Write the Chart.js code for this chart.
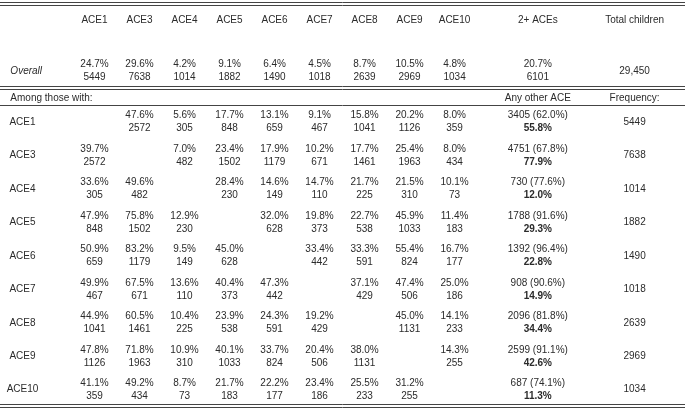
<!DOCTYPE html>
<html>
<head>
<meta charset="utf-8">
<script src="https://cdn.jsdelivr.net/npm/chart.js@4/dist/chart.umd.min.js"></script>
<style>
  html, body { margin: 0; padding: 0; background: #fff; }
  canvas { display: block; }
</style>
</head>
<body>
<canvas id="aceTable" width="685" height="410"></canvas>
<script>
const aceLabels = ['ACE1', 'ACE3', 'ACE4', 'ACE5', 'ACE6', 'ACE7', 'ACE8', 'ACE9', 'ACE10'];
const overallPct = [24.7, 29.6, 4.2, 9.1, 6.4, 4.5, 8.7, 10.5, 4.8];
const overallN = [5449, 7638, 1014, 1882, 1490, 1018, 2639, 2969, 1034];
const twoPlusPct = 20.7;
const twoPlusN = 6101;
const totalChildren = 29450;

// share of children with the row ACE who also have the column ACE
const pairPct = [
  [null, 47.6, 5.6, 17.7, 13.1, 9.1, 15.8, 20.2, 8.0],
  [39.7, null, 7.0, 23.4, 17.9, 10.2, 17.7, 25.4, 8.0],
  [33.6, 49.6, null, 28.4, 14.6, 14.7, 21.7, 21.5, 10.1],
  [47.9, 75.8, 12.9, null, 32.0, 19.8, 22.7, 45.9, 11.4],
  [50.9, 83.2, 9.5, 45.0, null, 33.4, 33.3, 55.4, 16.7],
  [49.9, 67.5, 13.6, 40.4, 47.3, null, 37.1, 47.4, 25.0],
  [44.9, 60.5, 10.4, 23.9, 24.3, 19.2, null, 45.0, 14.1],
  [47.8, 71.8, 10.9, 40.1, 33.7, 20.4, 38.0, null, 14.3],
  [41.1, 49.2, 8.7, 21.7, 22.2, 23.4, 25.5, 31.2, null]
];
const pairN = [
  [null, 2572, 305, 848, 659, 467, 1041, 1126, 359],
  [2572, null, 482, 1502, 1179, 671, 1461, 1963, 434],
  [305, 482, null, 230, 149, 110, 225, 310, 73],
  [848, 1502, 230, null, 628, 373, 538, 1033, 183],
  [659, 1179, 149, 628, null, 442, 591, 824, 177],
  [467, 671, 110, 373, 442, null, 429, 506, 186],
  [1041, 1461, 225, 538, 591, 429, null, 1131, 233],
  [1126, 1963, 310, 1033, 824, 506, 1131, null, 255],
  [359, 434, 73, 183, 177, 186, 233, 255, null]
];
const anyOtherN = [3405, 4751, 730, 1788, 1392, 908, 2096, 2599, 687];
const anyOtherPctRow = [62.0, 67.8, 77.6, 91.6, 96.4, 90.6, 81.8, 91.1, 74.1];
const anyOtherPctAll = [55.8, 77.9, 12.0, 29.3, 22.8, 14.9, 34.4, 42.6, 11.3];
const frequency = [5449, 7638, 1014, 1882, 1490, 1018, 2639, 2969, 1034];

// ---- layout (scale units: one column / one row per unit) ----
const X_MIN = -1.1, X_MAX = 14.12;
const Y_MIN = -2.6, Y_MAX = 9.65;
const COL_LEFT = -0.87, COL_LABEL = -0.6, COL_TWO_PLUS = 10.85, COL_TOTAL = 13;
const ROW_HEAD = -2.03, ROW_OVERALL = -0.52, ROW_AMONG = 0.3;
const RULES = [
  { y: -2.555, double: true },
  { y: -0.02, double: true },
  { y: 0.537 },
  { y: 9.47, double: true }
];
const FONT = '10px "Liberation Sans", Arial, Helvetica, sans-serif';
const TEXT_COLOR = '#2b2b2b';
const RULE_COLOR = '#444';
const LINE_GAP = 13;
const TEXT_DY = 1.5;

const pct = v => v.toFixed(1) + '%';
const txt = (text, extra) => Object.assign({ text: String(text) }, extra);

const headerCells = aceLabels.map((l, i) => ({ x: i + 1, y: ROW_HEAD, lines: [txt(l)] }))
  .concat([
    { x: COL_TWO_PLUS, y: ROW_HEAD, lines: [txt('2+ ACEs')] },
    { x: COL_TOTAL, y: ROW_HEAD, lines: [txt('Total children')] }
  ]);

const overallCells = overallPct.map((p, i) => ({ x: i + 1, y: ROW_OVERALL, lines: [txt(pct(p)), txt(overallN[i])] }))
  .concat([
    { x: COL_TWO_PLUS, y: ROW_OVERALL, lines: [txt(pct(twoPlusPct)), txt(twoPlusN)] },
    { x: COL_TOTAL, y: ROW_OVERALL, lines: [txt(totalChildren.toLocaleString('en-US'))] }
  ]);

const leftLabels = [
  { x: COL_LEFT, y: ROW_OVERALL, lines: [txt('Overall', { italic: true })] },
  { x: COL_LEFT, y: ROW_AMONG, lines: [txt('Among those with:')] }
];

const rowLabels = aceLabels.map((l, r) => ({ x: COL_LABEL, y: r + 1, lines: [txt(l)] }));

const subHeaders = [
  { x: COL_TWO_PLUS, y: ROW_AMONG, lines: [txt('Any other ACE')] },
  { x: COL_TOTAL, y: ROW_AMONG, lines: [txt('Frequency:')] }
];

const pairCells = [];
pairPct.forEach((row, r) => row.forEach((p, c) => {
  if (p === null) return;
  pairCells.push({ x: c + 1, y: r + 1, lines: [txt(pct(p)), txt(pairN[r][c])] });
}));

const anyOtherCells = anyOtherN.map((n, r) => ({
  x: COL_TWO_PLUS, y: r + 1,
  lines: [txt(n + ' (' + pct(anyOtherPctRow[r]) + ')'), txt(pct(anyOtherPctAll[r]), { bold: true })]
}));

const freqCells = frequency.map((n, r) => ({ x: COL_TOTAL, y: r + 1, lines: [txt(n)] }));

const tableText = {
  id: 'tableText',
  afterDatasetsDraw(chart) {
    const { ctx } = chart;
    ctx.save();
    ctx.fillStyle = TEXT_COLOR;
    ctx.textBaseline = 'middle';
    chart.data.datasets.forEach((ds, di) => {
      const meta = chart.getDatasetMeta(di);
      meta.data.forEach((pt, i) => {
        const lines = ds.data[i].lines;
        const y0 = pt.y + TEXT_DY - LINE_GAP * (lines.length - 1) / 2;
        lines.forEach((ln, k) => {
          ctx.font = (ln.italic ? 'italic ' : '') + (ln.bold ? 'bold ' : '') + FONT;
          ctx.textAlign = ds.align || 'center';
          ctx.fillText(ln.text, pt.x, y0 + k * LINE_GAP);
        });
      });
    });

    // horizontal rules
    const ys = chart.scales.y;
    ctx.strokeStyle = RULE_COLOR;
    ctx.lineWidth = 1;
    RULES.forEach(rule => {
      const py = Math.round(ys.getPixelForValue(rule.y)) + 0.5;
      const offs = rule.double ? [0, 3] : [0];
      offs.forEach(o => {
        ctx.beginPath();
        ctx.moveTo(chart.chartArea.left, py + o);
        ctx.lineTo(chart.chartArea.right, py + o);
        ctx.stroke();
      });
    });
    ctx.restore();
  }
};

const mk = (data, align) => ({ data, align, pointRadius: 0, pointHoverRadius: 0, showLine: false });

new Chart(document.getElementById('aceTable'), {
  type: 'scatter',
  data: {
    datasets: [
      mk(headerCells),
      mk(overallCells),
      mk(leftLabels, 'left'),
      mk(rowLabels),
      mk(subHeaders),
      mk(pairCells),
      mk(anyOtherCells),
      mk(freqCells)
    ]
  },
  options: {
    responsive: false,
    animation: false,
    layout: { padding: 0 },
    scales: {
      x: { type: 'linear', min: X_MIN, max: X_MAX, display: false },
      y: { type: 'linear', min: Y_MIN, max: Y_MAX, reverse: true, display: false }
    },
    plugins: { legend: { display: false }, tooltip: { enabled: false } },
    events: []
  },
  plugins: [tableText]
});
</script>
</body>
</html>
